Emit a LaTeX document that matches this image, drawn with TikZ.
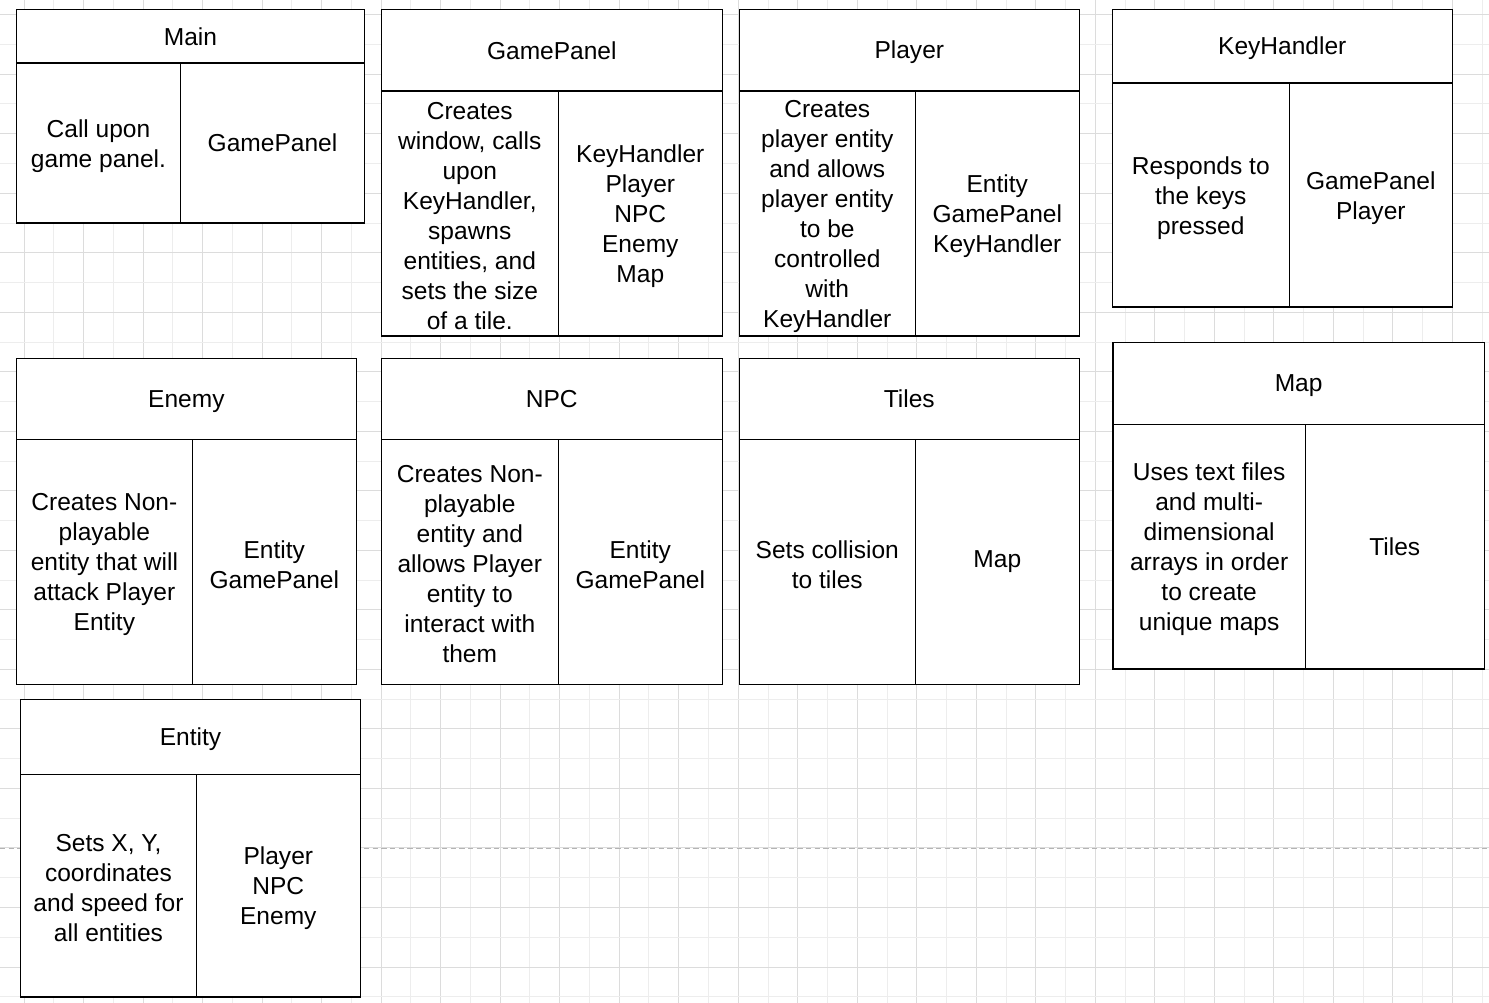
\documentclass[tikz,border=0pt]{standalone}
\usepackage{fontspec}
\setmainfont{Liberation Sans}
\usetikzlibrary{fit}
\definecolor{gridA}{HTML}{DCDCDC}
\definecolor{gridB}{HTML}{EDEDED}
\definecolor{pagegray}{HTML}{B4B4B4}
\tikzset{
  cell/.style={draw=black, line width=1pt, fill=white, inner sep=0pt},
  txt/.style={inner sep=0pt, align=center, font=\fontsize{18.4}{22.5}\selectfont},
  body/.style={txt, yshift=-2pt},
  gridmajor/.style={draw=gridA, line width=0.75pt},
  gridminor/.style={draw=gridB, line width=0.75pt},
  pageline/.style={draw=pagegray, line width=0.75pt, dash pattern=on 4pt off 2.5pt}
}
\begin{document}
\begin{tikzpicture}[x=0.75pt, y=-0.75pt]
\useasboundingbox (0,0) rectangle (1489,1003);
\fill[white] (0,0) rectangle (1489,1003);
% background grid
\foreach \i in {0,...,49}{
  \pgfmathsetmacro\gx{24+29.76*\i}
  \ifodd\i \draw[gridminor] (\gx,0) -- (\gx,1003); \else \draw[gridmajor] (\gx,0) -- (\gx,1003); \fi
}
\foreach \j in {0,...,33}{
  \pgfmathsetmacro\gy{14.7+29.76*\j}
  \ifodd\j \draw[gridminor] (0,\gy) -- (1489,\gy); \else \draw[gridmajor] (0,\gy) -- (1489,\gy); \fi
}
\coordinate (pl-a) at (0,848);
\coordinate (pl-b) at (1489,848);
\draw[pageline] (pl-a) -- (pl-b);

% Main
\node[cell, fit={(16.5,9.7)(364.5,63)}] (main-t) {};
\node[cell, fit={(16.5,63)(180.5,223)}] (main-l) {};
\node[cell, fit={(180.5,63)(364.5,223)}] (main-r) {};
\node[txt] (main-tt) at (main-t.center) {Main};
\node[body] (main-lt) at (main-l.center) {Call upon\\game panel.};
\node[txt] (main-rt) at (main-r.center) {GamePanel};

% GamePanel
\node[cell, fit={(381.3,9.7)(722.3,91)}] (gp-t) {};
\node[cell, fit={(381.3,91)(558.3,336)}] (gp-l) {};
\node[cell, fit={(558.3,91)(722.3,336)}] (gp-r) {};
\node[txt] (gp-tt) at (gp-t.center) {GamePanel};
\node[body] (gp-lt) at (gp-l.center) {Creates\\window, calls\\upon\\KeyHandler,\\spawns\\entities, and\\sets the size\\of a tile.};
\node[body] (gp-rt) at (gp-r.center) {KeyHandler\\Player\\NPC\\Enemy\\Map};

% Player
\node[cell, fit={(739.3,9.7)(1079.3,91)}] (pl-t) {};
\node[cell, fit={(739.3,91)(915.3,336)}] (pl-l) {};
\node[cell, fit={(915.3,91)(1079.3,336)}] (pl-r) {};
\node[txt, yshift=-1.5pt] (pl-tt) at (pl-t.center) {Player};
\node[body] (pl-lt) at (pl-l.center) {Creates\\player entity\\and allows\\player entity\\to be\\controlled\\with\\KeyHandler};
\node[body] (pl-rt) at (pl-r.center) {Entity\\GamePanel\\KeyHandler};

% KeyHandler
\node[cell, fit={(1112.3,9.7)(1452.3,83)}] (kh-t) {};
\node[cell, fit={(1112.3,83)(1289.3,307)}] (kh-l) {};
\node[cell, fit={(1289.3,83)(1452.3,307)}] (kh-r) {};
\node[txt, yshift=-1.5pt] (kh-tt) at (kh-t.center) {KeyHandler};
\node[body] (kh-lt) at (kh-l.center) {Responds to\\the keys\\pressed};
\node[body] (kh-rt) at (kh-r.center) {GamePanel\\Player};

% Enemy
\node[cell, fit={(16.5,358.7)(356.3,439.3)}] (en-t) {};
\node[cell, fit={(16.5,439.3)(192.3,684.3)}] (en-l) {};
\node[cell, fit={(192.3,439.3)(356.3,684.3)}] (en-r) {};
\node[txt, yshift=-2pt] (en-tt) at (en-t.center) {Enemy};
\node[body] (en-lt) at (en-l.center) {Creates Non-\\playable\\entity that will\\attack Player\\Entity};
\node[body] (en-rt) at (en-r.center) {Entity\\GamePanel};

% NPC
\node[cell, fit={(381.3,358.7)(722.3,439.3)}] (npc-t) {};
\node[cell, fit={(381.3,439.3)(558.3,684.3)}] (npc-l) {};
\node[cell, fit={(558.3,439.3)(722.3,684.3)}] (npc-r) {};
\node[txt] (npc-tt) at (npc-t.center) {NPC};
\node[body] (npc-lt) at (npc-l.center) {Creates Non-\\playable\\entity and\\allows Player\\entity to\\interact with\\them};
\node[body] (npc-rt) at (npc-r.center) {Entity\\GamePanel};

% Tiles
\node[cell, fit={(739.3,358.7)(1079.3,439.3)}] (ti-t) {};
\node[cell, fit={(739.3,439.3)(915.3,684.3)}] (ti-l) {};
\node[cell, fit={(915.3,439.3)(1079.3,684.3)}] (ti-r) {};
\node[txt] (ti-tt) at (ti-t.center) {Tiles};
\node[body] (ti-lt) at (ti-l.center) {Sets collision\\to tiles};
\node[txt] (ti-rt) at (ti-r.center) {Map};

% Map
\node[cell, fit={(1113,342.3)(1484.3,424.3)}] (map-t) {};
\node[cell, fit={(1113,424.3)(1305.3,669)}] (map-l) {};
\node[cell, fit={(1305.3,424.3)(1484.3,669)}] (map-r) {};
\node[txt, yshift=-1.5pt] (map-tt) at (map-t.center) {Map};
\node[body] (map-lt) at (map-l.center) {Uses text files\\and multi-\\dimensional\\arrays in order\\to create\\unique maps};
\node[txt] (map-rt) at (map-r.center) {Tiles};

% Entity
\node[cell, fit={(20.7,699.7)(360.3,774.3)}] (ent-t) {};
\node[cell, fit={(20.7,774.3)(196.3,997)}] (ent-l) {};
\node[cell, fit={(196.3,774.3)(360.3,997)}] (ent-r) {};
\node[txt, yshift=-1.5pt] (ent-tt) at (ent-t.center) {Entity};
\node[body] (ent-lt) at (ent-l.center) {Sets X, Y,\\coordinates\\and speed for\\all entities};
\node[body] (ent-rt) at (ent-r.center) {Player\\NPC\\Enemy};
\end{tikzpicture}
\end{document}
